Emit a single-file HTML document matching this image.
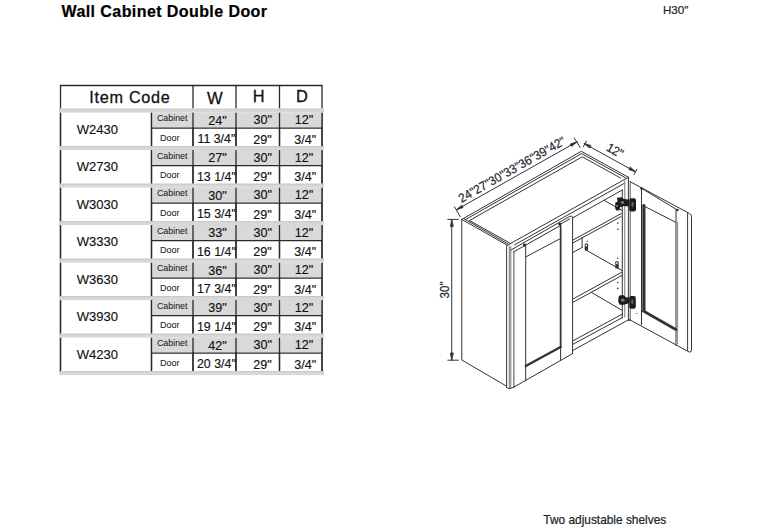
<!DOCTYPE html><html><head><meta charset="utf-8"><style>html,body{margin:0;padding:0;background:#fff;width:762px;height:530px;overflow:hidden}svg{display:block}text{font-family:"Liberation Sans",sans-serif}</style></head><body>
<svg width="762" height="530" viewBox="0 0 762 530">
<text x="61.5" y="16.8" font-size="16" font-weight="bold" fill="#000" stroke="#000" stroke-width="0.2" letter-spacing="0.42">Wall Cabinet Double Door</text>
<text x="663" y="14.3" font-size="11.6" fill="#222" stroke="#222" stroke-width="0.2">H30"</text>
<text x="543.3" y="523.6" font-size="11.9" fill="#222" stroke="#222" stroke-width="0.2">Two adjustable shelves</text>
<g fill="none" stroke="#2a2a2a" stroke-width="1.3">
<path d="M60,85.5H322.5"/>
<path d="M60.5,85V108.5"/>
<path d="M193,85V108.5"/>
<path d="M236,85V108.5"/>
<path d="M279.5,85V108.5"/>
<path d="M322,85V108.5"/>
<path d="M60.5,112.5V146.2M151.5,112.5V146.2M193,112.5V146.2M236,112.5V146.2M279.5,112.5V146.2M322,112.5V146.2"/>
<path d="M60.5,150.0V183.7M151.5,150.0V183.7M193,150.0V183.7M236,150.0V183.7M279.5,150.0V183.7M322,150.0V183.7"/>
<path d="M60.5,187.5V221.2M151.5,187.5V221.2M193,187.5V221.2M236,187.5V221.2M279.5,187.5V221.2M322,187.5V221.2"/>
<path d="M60.5,225.0V258.7M151.5,225.0V258.7M193,225.0V258.7M236,225.0V258.7M279.5,225.0V258.7M322,225.0V258.7"/>
<path d="M60.5,262.5V296.2M151.5,262.5V296.2M193,262.5V296.2M236,262.5V296.2M279.5,262.5V296.2M322,262.5V296.2"/>
<path d="M60.5,300.0V333.7M151.5,300.0V333.7M193,300.0V333.7M236,300.0V333.7M279.5,300.0V333.7M322,300.0V333.7"/>
<path d="M60.5,337.5V371.2M151.5,337.5V371.2M193,337.5V371.2M236,337.5V371.2M279.5,337.5V371.2M322,337.5V371.2"/>
</g>
<rect x="151.5" y="112.5" width="170.5" height="15" fill="#d9d9d9"/>
<rect x="151.5" y="150.0" width="170.5" height="15" fill="#d9d9d9"/>
<rect x="151.5" y="187.5" width="170.5" height="15" fill="#d9d9d9"/>
<rect x="151.5" y="225.0" width="170.5" height="15" fill="#d9d9d9"/>
<rect x="151.5" y="262.5" width="170.5" height="15" fill="#d9d9d9"/>
<rect x="151.5" y="300.0" width="170.5" height="15" fill="#d9d9d9"/>
<rect x="151.5" y="337.5" width="170.5" height="15" fill="#d9d9d9"/>
<g fill="none" stroke="#2a2a2a" stroke-width="1.3">
<path d="M60.5,112.5V146.2M151.5,112.5V146.2M193,112.5V146.2M236,112.5V146.2M279.5,112.5V146.2M322,112.5V146.2"/>
<path d="M151.5,128.1H322"/>
<path d="M60.5,150.0V183.7M151.5,150.0V183.7M193,150.0V183.7M236,150.0V183.7M279.5,150.0V183.7M322,150.0V183.7"/>
<path d="M151.5,165.6H322"/>
<path d="M60.5,187.5V221.2M151.5,187.5V221.2M193,187.5V221.2M236,187.5V221.2M279.5,187.5V221.2M322,187.5V221.2"/>
<path d="M151.5,203.1H322"/>
<path d="M60.5,225.0V258.7M151.5,225.0V258.7M193,225.0V258.7M236,225.0V258.7M279.5,225.0V258.7M322,225.0V258.7"/>
<path d="M151.5,240.6H322"/>
<path d="M60.5,262.5V296.2M151.5,262.5V296.2M193,262.5V296.2M236,262.5V296.2M279.5,262.5V296.2M322,262.5V296.2"/>
<path d="M151.5,278.1H322"/>
<path d="M60.5,300.0V333.7M151.5,300.0V333.7M193,300.0V333.7M236,300.0V333.7M279.5,300.0V333.7M322,300.0V333.7"/>
<path d="M151.5,315.6H322"/>
<path d="M60.5,337.5V371.2M151.5,337.5V371.2M193,337.5V371.2M236,337.5V371.2M279.5,337.5V371.2M322,337.5V371.2"/>
<path d="M151.5,353.1H322"/>
</g>
<rect x="59" y="108.7" width="265" height="3.9" fill="#d8d8d8"/>
<rect x="59" y="108.7" width="265" height="0.9" fill="#c4c4c4"/>
<rect x="59" y="146.2" width="265" height="3.9" fill="#d8d8d8"/>
<rect x="59" y="146.2" width="265" height="0.9" fill="#c4c4c4"/>
<rect x="59" y="183.7" width="265" height="3.9" fill="#d8d8d8"/>
<rect x="59" y="183.7" width="265" height="0.9" fill="#c4c4c4"/>
<rect x="59" y="221.2" width="265" height="3.9" fill="#d8d8d8"/>
<rect x="59" y="221.2" width="265" height="0.9" fill="#c4c4c4"/>
<rect x="59" y="258.7" width="265" height="3.9" fill="#d8d8d8"/>
<rect x="59" y="258.7" width="265" height="0.9" fill="#c4c4c4"/>
<rect x="59" y="296.2" width="265" height="3.9" fill="#d8d8d8"/>
<rect x="59" y="296.2" width="265" height="0.9" fill="#c4c4c4"/>
<rect x="59" y="333.7" width="265" height="3.9" fill="#d8d8d8"/>
<rect x="59" y="333.7" width="265" height="0.9" fill="#c4c4c4"/>
<rect x="59" y="371.2" width="265" height="3.9" fill="#d8d8d8"/>
<rect x="59" y="371.2" width="265" height="0.9" fill="#c4c4c4"/>
<g stroke="#111" stroke-width="0.28">
<text x="129.9" y="103.2" font-size="16.2" fill="#111" text-anchor="middle" letter-spacing="0.75">Item Code</text>
<text x="214.8" y="103.6" font-size="16.6" fill="#111" text-anchor="middle">W</text>
<text x="258.6" y="101.9" font-size="16.4" fill="#111" text-anchor="middle">H</text>
<text x="301.8" y="102" font-size="16.4" fill="#111" text-anchor="middle">D</text>
<text x="97.4" y="133.9" font-size="13.6" fill="#111" stroke-width="0.15" text-anchor="middle" transform="translate(97.4,0) scale(0.96,1) translate(-97.4,0)">W2430</text>
<text x="172.2" y="121.0" font-size="8.9" fill="#222" stroke-width="0.05" text-anchor="middle">Cabinet</text>
<text x="169.8" y="140.8" font-size="9" fill="#222" stroke-width="0.05" text-anchor="middle">Door</text>
<text x="217.5" y="124.6" font-size="12.6" fill="#111" stroke-width="0.15" text-anchor="middle">24"</text>
<text x="262.8" y="124.2" font-size="12.6" fill="#111" stroke-width="0.15" text-anchor="middle">30"</text>
<text x="304.1" y="124.2" font-size="12.6" fill="#111" stroke-width="0.15" text-anchor="middle">12"</text>
<text x="216.4" y="143.1" font-size="12.8" fill="#111" stroke-width="0.15" text-anchor="middle" transform="translate(216.4,0) scale(0.97,1) translate(-216.4,0)">11 3/4&quot;</text>
<text x="262.6" y="143.6" font-size="12.6" fill="#111" stroke-width="0.15" text-anchor="middle">29"</text>
<text x="305.3" y="143.6" font-size="12.6" fill="#111" stroke-width="0.15" text-anchor="middle">3/4"</text>
<text x="97.4" y="171.4" font-size="13.6" fill="#111" stroke-width="0.15" text-anchor="middle" transform="translate(97.4,0) scale(0.96,1) translate(-97.4,0)">W2730</text>
<text x="172.2" y="158.5" font-size="8.9" fill="#222" stroke-width="0.05" text-anchor="middle">Cabinet</text>
<text x="169.8" y="178.3" font-size="9" fill="#222" stroke-width="0.05" text-anchor="middle">Door</text>
<text x="217.5" y="162.1" font-size="12.6" fill="#111" stroke-width="0.15" text-anchor="middle">27"</text>
<text x="262.8" y="161.7" font-size="12.6" fill="#111" stroke-width="0.15" text-anchor="middle">30"</text>
<text x="304.1" y="161.7" font-size="12.6" fill="#111" stroke-width="0.15" text-anchor="middle">12"</text>
<text x="216.4" y="180.6" font-size="12.8" fill="#111" stroke-width="0.15" text-anchor="middle" transform="translate(216.4,0) scale(0.97,1) translate(-216.4,0)">13 1/4&quot;</text>
<text x="262.6" y="181.1" font-size="12.6" fill="#111" stroke-width="0.15" text-anchor="middle">29"</text>
<text x="305.3" y="181.1" font-size="12.6" fill="#111" stroke-width="0.15" text-anchor="middle">3/4"</text>
<text x="97.4" y="208.9" font-size="13.6" fill="#111" stroke-width="0.15" text-anchor="middle" transform="translate(97.4,0) scale(0.96,1) translate(-97.4,0)">W3030</text>
<text x="172.2" y="196.0" font-size="8.9" fill="#222" stroke-width="0.05" text-anchor="middle">Cabinet</text>
<text x="169.8" y="215.8" font-size="9" fill="#222" stroke-width="0.05" text-anchor="middle">Door</text>
<text x="217.5" y="199.6" font-size="12.6" fill="#111" stroke-width="0.15" text-anchor="middle">30"</text>
<text x="262.8" y="199.2" font-size="12.6" fill="#111" stroke-width="0.15" text-anchor="middle">30"</text>
<text x="304.1" y="199.2" font-size="12.6" fill="#111" stroke-width="0.15" text-anchor="middle">12"</text>
<text x="216.4" y="218.1" font-size="12.8" fill="#111" stroke-width="0.15" text-anchor="middle" transform="translate(216.4,0) scale(0.97,1) translate(-216.4,0)">15 3/4&quot;</text>
<text x="262.6" y="218.6" font-size="12.6" fill="#111" stroke-width="0.15" text-anchor="middle">29"</text>
<text x="305.3" y="218.6" font-size="12.6" fill="#111" stroke-width="0.15" text-anchor="middle">3/4"</text>
<text x="97.4" y="246.4" font-size="13.6" fill="#111" stroke-width="0.15" text-anchor="middle" transform="translate(97.4,0) scale(0.96,1) translate(-97.4,0)">W3330</text>
<text x="172.2" y="233.5" font-size="8.9" fill="#222" stroke-width="0.05" text-anchor="middle">Cabinet</text>
<text x="169.8" y="253.3" font-size="9" fill="#222" stroke-width="0.05" text-anchor="middle">Door</text>
<text x="217.5" y="237.1" font-size="12.6" fill="#111" stroke-width="0.15" text-anchor="middle">33"</text>
<text x="262.8" y="236.7" font-size="12.6" fill="#111" stroke-width="0.15" text-anchor="middle">30"</text>
<text x="304.1" y="236.7" font-size="12.6" fill="#111" stroke-width="0.15" text-anchor="middle">12"</text>
<text x="216.4" y="255.6" font-size="12.8" fill="#111" stroke-width="0.15" text-anchor="middle" transform="translate(216.4,0) scale(0.97,1) translate(-216.4,0)">16 1/4&quot;</text>
<text x="262.6" y="256.1" font-size="12.6" fill="#111" stroke-width="0.15" text-anchor="middle">29"</text>
<text x="305.3" y="256.1" font-size="12.6" fill="#111" stroke-width="0.15" text-anchor="middle">3/4"</text>
<text x="97.4" y="283.9" font-size="13.6" fill="#111" stroke-width="0.15" text-anchor="middle" transform="translate(97.4,0) scale(0.96,1) translate(-97.4,0)">W3630</text>
<text x="172.2" y="271.0" font-size="8.9" fill="#222" stroke-width="0.05" text-anchor="middle">Cabinet</text>
<text x="169.8" y="290.8" font-size="9" fill="#222" stroke-width="0.05" text-anchor="middle">Door</text>
<text x="217.5" y="274.6" font-size="12.6" fill="#111" stroke-width="0.15" text-anchor="middle">36"</text>
<text x="262.8" y="274.2" font-size="12.6" fill="#111" stroke-width="0.15" text-anchor="middle">30"</text>
<text x="304.1" y="274.2" font-size="12.6" fill="#111" stroke-width="0.15" text-anchor="middle">12"</text>
<text x="216.4" y="293.1" font-size="12.8" fill="#111" stroke-width="0.15" text-anchor="middle" transform="translate(216.4,0) scale(0.97,1) translate(-216.4,0)">17 3/4&quot;</text>
<text x="262.6" y="293.6" font-size="12.6" fill="#111" stroke-width="0.15" text-anchor="middle">29"</text>
<text x="305.3" y="293.6" font-size="12.6" fill="#111" stroke-width="0.15" text-anchor="middle">3/4"</text>
<text x="97.4" y="321.4" font-size="13.6" fill="#111" stroke-width="0.15" text-anchor="middle" transform="translate(97.4,0) scale(0.96,1) translate(-97.4,0)">W3930</text>
<text x="172.2" y="308.5" font-size="8.9" fill="#222" stroke-width="0.05" text-anchor="middle">Cabinet</text>
<text x="169.8" y="328.3" font-size="9" fill="#222" stroke-width="0.05" text-anchor="middle">Door</text>
<text x="217.5" y="312.1" font-size="12.6" fill="#111" stroke-width="0.15" text-anchor="middle">39"</text>
<text x="262.8" y="311.7" font-size="12.6" fill="#111" stroke-width="0.15" text-anchor="middle">30"</text>
<text x="304.1" y="311.7" font-size="12.6" fill="#111" stroke-width="0.15" text-anchor="middle">12"</text>
<text x="216.4" y="330.6" font-size="12.8" fill="#111" stroke-width="0.15" text-anchor="middle" transform="translate(216.4,0) scale(0.97,1) translate(-216.4,0)">19 1/4&quot;</text>
<text x="262.6" y="331.1" font-size="12.6" fill="#111" stroke-width="0.15" text-anchor="middle">29"</text>
<text x="305.3" y="331.1" font-size="12.6" fill="#111" stroke-width="0.15" text-anchor="middle">3/4"</text>
<text x="97.4" y="358.9" font-size="13.6" fill="#111" stroke-width="0.15" text-anchor="middle" transform="translate(97.4,0) scale(0.96,1) translate(-97.4,0)">W4230</text>
<text x="172.2" y="346.0" font-size="8.9" fill="#222" stroke-width="0.05" text-anchor="middle">Cabinet</text>
<text x="169.8" y="365.8" font-size="9" fill="#222" stroke-width="0.05" text-anchor="middle">Door</text>
<text x="217.5" y="349.6" font-size="12.6" fill="#111" stroke-width="0.15" text-anchor="middle">42"</text>
<text x="262.8" y="349.2" font-size="12.6" fill="#111" stroke-width="0.15" text-anchor="middle">30"</text>
<text x="304.1" y="349.2" font-size="12.6" fill="#111" stroke-width="0.15" text-anchor="middle">12"</text>
<text x="216.4" y="368.1" font-size="12.8" fill="#111" stroke-width="0.15" text-anchor="middle" transform="translate(216.4,0) scale(0.97,1) translate(-216.4,0)">20 3/4&quot;</text>
<text x="262.6" y="368.6" font-size="12.6" fill="#111" stroke-width="0.15" text-anchor="middle">29"</text>
<text x="305.3" y="368.6" font-size="12.6" fill="#111" stroke-width="0.15" text-anchor="middle">3/4"</text>
</g>
<g fill="none" stroke="#333" stroke-width="1" stroke-linecap="round" stroke-linejoin="round">
<!-- width dimension -->
<path d="M456.4,209.8L577,141.8"/>
<path d="M460.3,216.8L454.6,206.8M580.2,147.6L574.4,138.2"/>
<path d="M456.4,209.8L463.1,207.6L461.9,205.4Z M577,141.8L570.3,144L571.5,146.2Z" fill="#222" stroke-width="0.8"/>
<text transform="translate(461.6,203) rotate(-29.5) scale(0.94,1)" font-size="12.5" fill="#2a2a35" stroke="#2a2a35" stroke-width="0.25">24"27"30"33"36"39"42"</text>
<!-- depth dimension -->
<path d="M584.2,143.6L635.5,171.8"/>
<path d="M586.5,141.2L583.2,146.8M636.9,169.2L634.1,174.4"/>
<path d="M584.2,143.6L589.7,148.1L590.9,145.9Z M635.5,171.8L628.8,169.5L630,167.3Z" fill="#222" stroke-width="0.8"/>
<text transform="translate(605.4,150) rotate(29) scale(0.94,1)" font-size="12.5" fill="#2a2a35" stroke="#2a2a35" stroke-width="0.25">12"</text>
<!-- height dimension -->
<path d="M451.7,219.6V360"/>
<path d="M447.8,219.4H458.3M447.8,360.2H458.3"/>
<path d="M451.7,219.6L450.4,226.6H453Z M451.7,360L450.4,353H453Z" fill="#222" stroke-width="0.8"/>
<text transform="translate(448.6,298.5) rotate(-90) scale(0.88,1)" font-size="13.2" fill="#2a2a35" stroke="#2a2a35" stroke-width="0.25">30"</text>

<!-- left side panel -->
<path d="M461.8,219.4V360L506.6,386.2"/>
<!-- top outer -->
<path d="M461.8,219.4L581.3,151.3L628.4,177.3"/>
<path d="M461.8,219.4L507.4,245.3"/>
<path d="M463.8,218.6L508.2,244.1"/>
<!-- top rim inner lines -->
<path d="M465.6,219.5L581.6,153.6L625.5,177.8"/>
<path d="M469.5,220.5L582.3,156.8L620.5,178"/>
<path d="M469.5,220.5L510.5,243.5"/>
<!-- top front edge and face frame -->
<path d="M507.4,245.3L628.4,177.3"/>
<path d="M514.6,244.8L624,183.5"/>
<path d="M510.8,250.1L569.8,216.4Q571.5,215.6 572.5,217"/>
<path d="M513.5,252L559.6,226M560.6,224L569.8,219"/>
<path d="M572.5,218L622.3,190"/>
<!-- left face frame stile -->
<path d="M506.6,246V387.5"/>
<path d="M509.3,246V388M510.8,247V388" stroke="#777"/>
<path d="M513.9,251V387" stroke="#666" stroke-width="1.2"/>
<path d="M506.6,387.5Q508,389 510,388.5L514.1,387"/>
<!-- left door -->
<path d="M514.1,387L572.6,353.6"/>
<path d="M572.6,217V353.6"/>
<path d="M525.7,244.7V380.8"/>
<path d="M525.7,257L559.6,239"/>
<path d="M560.6,224V360.4"/>
<path d="M560.6,226V347" stroke-width="1.7"/>
<path d="M525.7,366L560.6,347" stroke-width="2.4"/>
<circle cx="524.3" cy="245" r="1.4" fill="#222" stroke="none"/>
<circle cx="559.8" cy="224.2" r="1.4" fill="#222" stroke="none"/>
<!-- right face frame stile -->
<path d="M622.3,190V318"/>
<path d="M624.8,181V317" stroke="#777"/>
<path d="M628.4,177.3V320"/>
<path d="M630.2,181.7V320" stroke="#555"/>
<!-- bottom front edge right portion -->
<path d="M572.6,350.6L627.5,320.3H630"/>
<!-- interior -->
<path d="M604,200.3L621.8,210.3"/>
<path d="M572.5,240.3L621.2,213.6M572.5,243.2L621.2,216.5"/>
<path d="M572.5,252.7L582.1,247.5M582.1,237.5V247.5"/>
<path d="M587.4,250.8L622.1,270.5"/>
<path d="M572.5,299.3L621.8,272.2M572.5,302.6L621.8,275.5"/>
<path d="M591.4,292.4L621.8,310.2"/>
<path d="M573.4,340.6L622.5,314M573.4,344L622.5,317.5"/>
<g fill="#333" stroke="none">
<rect x="584.7" y="243.5" width="3.4" height="7.3" rx="1.2"/><rect x="585.6" y="244.6" width="1.4" height="1.8" fill="#fff"/>
<rect x="615.3" y="261.2" width="3.4" height="7.4" rx="1.2"/><rect x="616.2" y="262.3" width="1.4" height="1.8" fill="#fff"/>
<rect x="615.8" y="205.5" width="3" height="4.5" rx="0.8"/>
<circle cx="587.3" cy="241.2" r="0.7"/>
<circle cx="617.8" cy="223.1" r="0.8"/><circle cx="617.8" cy="229.3" r="0.8"/><circle cx="617.8" cy="258.2" r="0.7"/>
<circle cx="617.8" cy="282.5" r="0.8"/><circle cx="617.8" cy="288.4" r="0.8"/>
<circle cx="636.8" cy="313.5" r="0.6"/>
</g>
<!-- right open door -->
<path d="M630.2,181.7L689.5,213.5Q691.5,214.5 691.5,216.5V350Q691.5,352.5 689.2,352L629,319.4"/>
<path d="M687.6,213V350.5"/>
<path d="M641.5,188.3V324.5"/>
<path d="M676,210V345.5"/><path d="M677.6,222V344" stroke="#888"/>
<path d="M641.5,188.3L677.4,210"/>
<path d="M642.5,205.3L675.8,222.3"/>

<path d="M643.9,205.5V310.4" stroke-width="3.2"/>
<path d="M643.4,311L675.8,329.5" stroke-width="2.6"/>
<circle cx="641.5" cy="188.5" r="1.2" fill="#222" stroke="none"/>
<circle cx="677.4" cy="210" r="1.2" fill="#222" stroke="none"/>
<!-- hinges -->
<g stroke="none">
<path d="M617,197.8L621.5,197.2L624,199L628.5,199.5L629.5,203.5L628.5,206.5L624,206L620,207.2L619.5,210.2L616.2,210.5L615.2,208L615.3,202.5L617.5,201.8Z" fill="#1c1c1c"/>
<rect x="629.2" y="198.2" width="6.8" height="13.2" rx="2" fill="#1c1c1c"/>
<ellipse cx="622.5" cy="202.5" rx="1.6" ry="1.2" fill="#888"/>
<rect x="631.5" y="202" width="2" height="5" rx="1" fill="#666"/>
<circle cx="617" cy="206" r="0.9" fill="#999"/>
<path d="M619.5,295.5L623,295L626.5,297.5L629.5,297.2V303L626.5,304L622.5,305L619.5,304.5L618.2,301.5L618.5,297Z" fill="#1c1c1c"/>
<rect x="629.3" y="296" width="6.5" height="12.8" rx="2" fill="#1c1c1c"/>
<ellipse cx="622.8" cy="300.2" rx="1.8" ry="1.6" fill="#777"/>
<rect x="631.3" y="299.5" width="2" height="4.5" rx="1" fill="#666"/>
</g>

</g>
</svg></body></html>
